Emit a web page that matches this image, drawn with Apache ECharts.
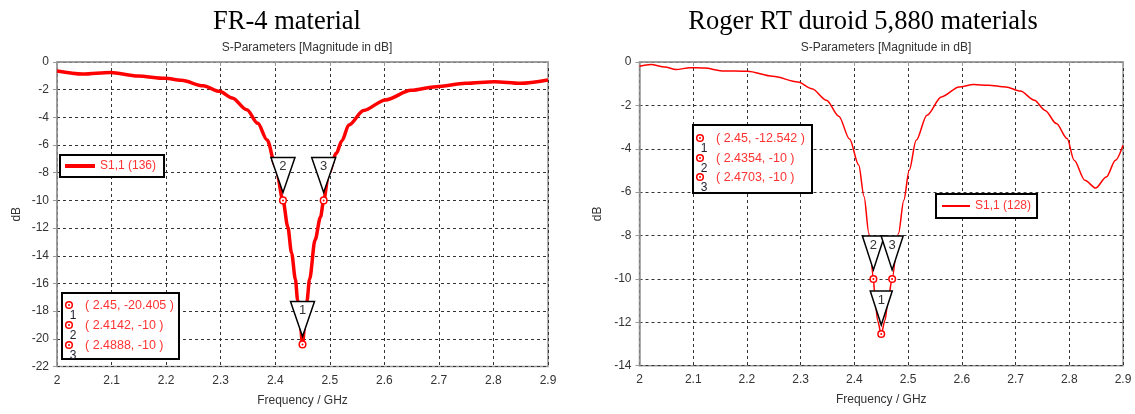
<!DOCTYPE html>
<html>
<head>
<meta charset="utf-8">
<script src="https://cdn.jsdelivr.net/npm/echarts@6/dist/echarts.min.js"></script>
<style>
  html, body { margin: 0; padding: 0; background: #fff; }
  #main { width: 1135px; height: 414px; }
</style>
</head>
<body>
<div id="main"></div>
<script>
// FR-4 curve (GHz / dB)
var fr4Freq = [2.0, 2.047, 2.098, 2.148, 2.198, 2.228, 2.268, 2.298, 2.321, 2.348, 2.368, 2.385, 2.401, 2.4142,
  2.423, 2.43, 2.437, 2.441, 2.446, 2.45, 2.454, 2.458, 2.463, 2.473, 2.483, 2.4888, 2.498, 2.512, 2.522,
  2.535, 2.562, 2.602, 2.649, 2.695, 2.749, 2.802, 2.849, 2.9];
var fr4Db = [-0.65, -0.87, -0.75, -1.01, -1.18, -1.32, -1.72, -2.12, -2.6, -3.45, -4.43, -5.63, -7.56, -10,
  -11.9, -13.8, -15.7, -17.2, -18.9, -20.405, -19.0, -17.3, -15.7, -12.85, -11.2, -10, -8.04, -6.6, -5.7,
  -4.55, -3.5, -2.74, -2.05, -1.78, -1.54, -1.42, -1.54, -1.30];

// Roger RT duroid 5880 curve
var rtFreq = [2.0, 2.021, 2.047, 2.068, 2.094, 2.121, 2.154, 2.201, 2.248, 2.295, 2.321, 2.348, 2.371, 2.391,
  2.408, 2.418, 2.427, 2.4354, 2.4375, 2.443, 2.45, 2.457, 2.463, 2.4703, 2.482, 2.492, 2.502, 2.515, 2.535,
  2.562, 2.595, 2.622, 2.649, 2.682, 2.709, 2.735, 2.755, 2.776, 2.796, 2.809, 2.829, 2.849, 2.869, 2.886, 2.9];
var rtDb = [-0.2, -0.11, -0.23, -0.35, -0.26, -0.28, -0.41, -0.43, -0.66, -0.92, -1.23, -1.76, -2.5, -3.55,
  -4.75, -6.2, -7.91, -10, -10.6, -11.9, -12.542, -11.9, -10.9, -10, -7.91, -6.37, -4.99, -3.61, -2.45,
  -1.61, -1.15, -1.04, -1.07, -1.15, -1.34, -1.76, -2.23, -2.84, -3.53, -4.53, -5.45, -5.81, -5.30, -4.53, -3.84];

// markers
var fr4MarkId = [1, 2, 3];
var fr4MarkFreq = [2.45, 2.4142, 2.4888];
var fr4MarkDb = [-20.405, -10, -10];
var rtMarkId = [1, 2, 3];
var rtMarkFreq = [2.45, 2.4354, 2.4703];
var rtMarkDb = [-12.542, -10, -10];

var titles = ['FR-4 material', 'Roger RT duroid 5,880 materials'];
var subTitle = 'S-Parameters [Magnitude in dB]';
var seriesNames = ['S1,1 (136)', 'S1,1 (128)'];
var xTicks = { min: 2, max: 2.9, step: 0.1 };
var yTicksFr4 = { min: -22, max: 0, step: 2 };
var yTicksRt = { min: -14, max: 0, step: 2 };

var SANS = 'Liberation Sans, Arial, sans-serif';
var RED = '#ff0000';
var TXT_RED = '#ff3333';

function zip(a, b) {
  return a.map(function (v, i) { return [v, b[i]]; });
}
function markData(ids, f, d) {
  return ids.map(function (id, i) { return [f[i], d[i], id]; });
}

function xAxisOf(idx) {
  return {
    type: 'value', gridIndex: idx,
    min: xTicks.min, max: xTicks.max, interval: xTicks.step,
    name: 'Frequency / GHz', nameLocation: 'middle', nameGap: 28,
    nameTextStyle: { fontFamily: SANS, fontSize: 12, color: '#333' },
    axisLine: { lineStyle: { color: '#999', width: 1.5 } },
    axisTick: { show: true, length: 4, lineStyle: { color: '#999' } },
    axisLabel: { fontFamily: SANS, fontSize: 12, color: '#333', margin: 8,
      formatter: function (v) { return String(+v.toFixed(1)); } },
    splitLine: { show: true, lineStyle: { color: '#333', type: [3, 3], width: 1 } }
  };
}
function yAxisOf(idx, t, gap) {
  return {
    type: 'value', gridIndex: idx,
    min: t.min, max: t.max, interval: t.step,
    name: 'dB', nameLocation: 'middle', nameGap: gap, nameRotate: 90,
    nameTextStyle: { fontFamily: SANS, fontSize: 12, color: '#333' },
    axisLine: { show: true, lineStyle: { color: '#999', width: 1.5 } },
    axisTick: { show: true, length: 4, lineStyle: { color: '#999' } },
    axisLabel: { fontFamily: SANS, fontSize: 12, color: '#333', margin: 8 },
    splitLine: { show: true, lineStyle: { color: '#333', type: [3, 3], width: 1 } }
  };
}

// inverted triangle flag with number, plus the small ring marker on the curve
function markerRenderer(w, h, gap) {
  return function (params, api) {
    var p = api.coord([api.value(0), api.value(1)]);
    var top = p[1] - gap - h;
    return {
      type: 'group',
      children: [
        { type: 'polygon',
          shape: { points: [[p[0] - w / 2, top], [p[0] + w / 2, top], [p[0], p[1] - gap]] },
          style: { fill: '#fff', stroke: '#000', lineWidth: 1.5 } },
        { type: 'text',
          style: { text: String(api.value(2)), x: p[0], y: top + 9, align: 'center', verticalAlign: 'middle',
            fill: '#333', font: '13px ' + SANS } },
        { type: 'circle', shape: { cx: p[0], cy: p[1], r: 3.3 },
          style: { fill: '#fff', stroke: RED, lineWidth: 1.5 } },
        { type: 'circle', shape: { cx: p[0], cy: p[1], r: 1 }, style: { fill: RED } }
      ]
    };
  };
}

// marker readout box drawn with graphic elements
function infoBox(x, y, w, h, rowY, ids, f, d) {
  var els = [{ type: 'rect', z: 100, shape: { x: x, y: y, width: w, height: h },
    style: { fill: '#fff', stroke: '#000', lineWidth: 2 } }];
  ids.forEach(function (id, i) {
    var cy = rowY[i], cx = x + 7;
    els.push({ type: 'circle', z: 101, shape: { cx: cx, cy: cy, r: 3.3 },
      style: { fill: '#fff', stroke: RED, lineWidth: 1.5 } });
    els.push({ type: 'circle', z: 101, shape: { cx: cx, cy: cy, r: 1 }, style: { fill: RED } });
    els.push({ type: 'text', z: 101, style: { text: String(id), x: cx + 4, y: cy + 11, align: 'center',
      verticalAlign: 'middle', fill: '#223', font: '12px ' + SANS } });
    els.push({ type: 'text', z: 101, style: { text: '( ' + f[i] + ', ' + d[i] + ' )', x: x + 23, y: cy + 1,
      align: 'left', verticalAlign: 'middle', fill: TXT_RED, font: '12.5px ' + SANS } });
  });
  return els;
}

var chart = echarts.init(document.getElementById('main'), null, { renderer: 'canvas' });

var option = {
  backgroundColor: '#fff',
  animation: false,
  title: [
    { text: titles[0], left: 282, top: 4, textAlign: 'center',
      textStyle: { fontFamily: 'Liberation Serif, Times New Roman, serif', fontSize: 26.5, fontWeight: 'normal', color: '#000' } },
    { text: titles[1], left: 858, top: 4, textAlign: 'center',
      textStyle: { fontFamily: 'Liberation Serif, Times New Roman, serif', fontSize: 26.5, fontWeight: 'normal', color: '#000' } },
    { text: subTitle, left: 302, top: 37, textAlign: 'center',
      textStyle: { fontFamily: SANS, fontSize: 12, fontWeight: 'normal', color: '#333' } },
    { text: subTitle, left: 881, top: 37, textAlign: 'center',
      textStyle: { fontFamily: SANS, fontSize: 12, fontWeight: 'normal', color: '#333' } }
  ],
  grid: [
    { left: 57, right: 1135 - 548, top: 62, bottom: 414 - 366.5, show: true, borderColor: '#999', borderWidth: 1.5, backgroundColor: '#fff' },
    { left: 639.5, right: 1135 - 1123, top: 62, bottom: 414 - 365.7, show: true, borderColor: '#999', borderWidth: 1.5, backgroundColor: '#fff' }
  ],
  xAxis: [xAxisOf(0), xAxisOf(1)],
  yAxis: [yAxisOf(0, yTicksFr4, 34), yAxisOf(1, yTicksRt, 36)],
  legend: [
    { data: [seriesNames[0]], left: 60, top: 155, icon: 'rect', itemWidth: 30, itemHeight: 4,
      padding: [5, 8, 5, 5], itemGap: 5, borderColor: '#000', borderWidth: 2, backgroundColor: '#fff',
      textStyle: { color: TXT_RED, fontFamily: SANS, fontSize: 12 } },
    { data: [seriesNames[1]], left: 936, top: 194, icon: 'rect', itemWidth: 28, itemHeight: 2,
      padding: [6, 6, 6, 6], borderColor: '#000', borderWidth: 2, backgroundColor: '#fff',
      textStyle: { color: TXT_RED, fontFamily: SANS, fontSize: 12 } }
  ],
  series: [
    { name: seriesNames[0], type: 'line', xAxisIndex: 0, yAxisIndex: 0, data: zip(fr4Freq, fr4Db),
      showSymbol: false, smooth: 0.3, smoothMonotone: 'x',
      lineStyle: { color: RED, width: 3.5 }, itemStyle: { color: RED } },
    { name: seriesNames[1], type: 'line', xAxisIndex: 1, yAxisIndex: 1, data: zip(rtFreq, rtDb),
      showSymbol: false, smooth: 0.3, smoothMonotone: 'x',
      lineStyle: { color: RED, width: 1.5 }, itemStyle: { color: RED } },
    { type: 'custom', xAxisIndex: 0, yAxisIndex: 0, z: 5, renderItem: markerRenderer(24, 35, 8),
      data: markData(fr4MarkId, fr4MarkFreq, fr4MarkDb) },
    { type: 'custom', xAxisIndex: 1, yAxisIndex: 1, z: 5, renderItem: markerRenderer(22, 34, 9),
      data: markData(rtMarkId, rtMarkFreq, rtMarkDb) }
  ],
  graphic: infoBox(62, 293, 117, 66, [305, 325, 345], fr4MarkId, fr4MarkFreq, fr4MarkDb)
    .concat(infoBox(693, 125, 119, 68, [138, 158, 177], rtMarkId, rtMarkFreq, rtMarkDb))
};

chart.setOption(option);
</script>
</body>
</html>
